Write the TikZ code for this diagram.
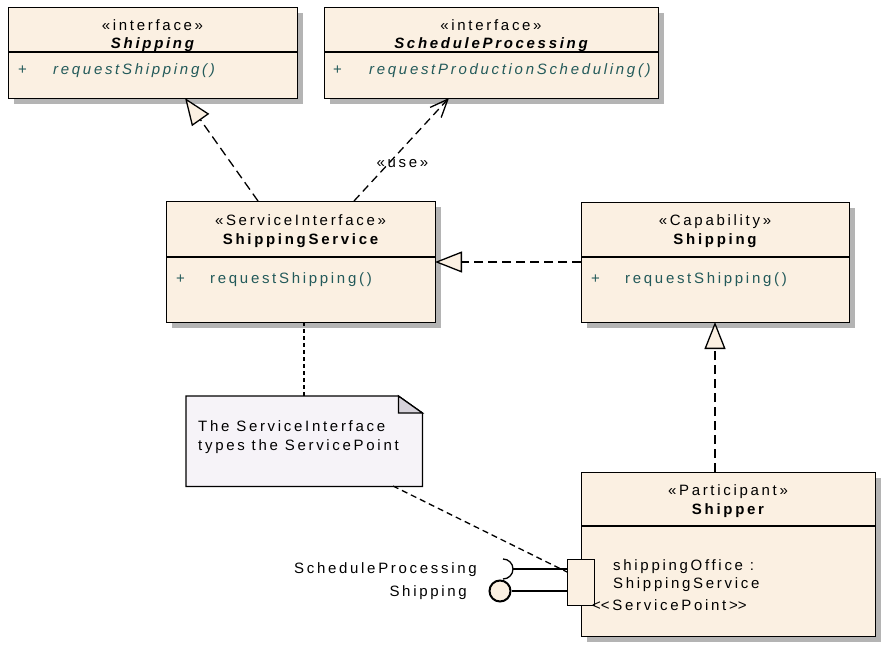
\documentclass[tikz,border=0pt]{standalone}
\usepackage{fontspec}
\setmainfont{Liberation Sans}[LetterSpace=18,Ligatures={NoCommon}]
\usetikzlibrary{arrows.meta,calc,shadows}

\definecolor{classfill}{HTML}{FBF0E2}
\definecolor{shade}{HTML}{B4B4B4}
\definecolor{opcol}{HTML}{235A5A}
\definecolor{notefill}{HTML}{F6F3F8}
\definecolor{earfill}{HTML}{D6D2DA}

\begin{document}
\begin{tikzpicture}[x=1pt,y=-1pt,
  font=\fontsize{15}{17}\selectfont,
  classbox/.style={draw, line width=1.3pt, fill=classfill, inner sep=0pt,
    anchor=north west,
    drop shadow={shadow xshift=5pt, shadow yshift=-5pt, fill=shade, opacity=1}},
  divider/.style={line width=1.3pt},
  txt/.style={inner sep=0pt, anchor=base},
  optxt/.style={inner sep=0pt, anchor=base west, text=opcol},
  realize/.style={line width=1.3pt, dash pattern=on 9pt off 5pt,
    -{Triangle[length=27pt, width=21pt, fill=classfill, line width=1.3pt]}},
  usedep/.style={line width=1.3pt, dash pattern=on 8pt off 5pt,
    -{Straight Barb[length=18pt, width=15pt, line width=1.3pt]}},
  notelink/.style={line width=1.3pt, dash pattern=on 4pt off 3pt},
  portline/.style={line width=1.3pt}
]
\useasboundingbox (0,0) rectangle (881,645);

% ---- interface Shipping
\node[classbox, minimum width=289pt, minimum height=91pt] (ifShip) at (8,7) {};
\draw[divider] ($(ifShip.north west)+(0,45)$) -- ($(ifShip.north east)+(0,45)$);
\node[txt] (ifShipSt) at (152.5,30) {«interface»};
\node[txt] (ifShipNm) at (152.5,48) {\bfseries\itshape Shipping};
\node[optxt] (ifShipPl) at (18,74) {+};
\node[optxt] (ifShipOp) at (53,74) {\itshape requestShipping()};

% ---- interface ScheduleProcessing
\node[classbox, minimum width=334pt, minimum height=91pt] (ifSched) at (324,7) {};
\draw[divider] ($(ifSched.north west)+(0,45)$) -- ($(ifSched.north east)+(0,45)$);
\node[txt] (ifSchedSt) at (491,30) {«interface»};
\node[txt] (ifSchedNm) at (491,48) {\bfseries\itshape ScheduleProcessing};
\node[optxt] (ifSchedPl) at (333,74) {+};
\node[optxt] (ifSchedOp) at (369,74) {\itshape requestProductionScheduling()};

% ---- ServiceInterface ShippingService
\node[classbox, minimum width=269pt, minimum height=121pt] (svc) at (166,201) {};
\draw[divider] ($(svc.north west)+(0,56)$) -- ($(svc.north east)+(0,56)$);
\node[txt] (svcSt) at (300.5,225) {«ServiceInterface»};
\node[txt] (svcNm) at (300.5,244) {\bfseries ShippingService};
\node[optxt] (svcPl) at (176,283) {+};
\node[optxt] (svcOp) at (210,283) {requestShipping()};

% ---- Capability Shipping
\node[classbox, minimum width=268pt, minimum height=120pt] (cap) at (581,202) {};
\draw[divider] ($(cap.north west)+(0,55)$) -- ($(cap.north east)+(0,55)$);
\node[txt] (capSt) at (715,225) {«Capability»};
\node[txt] (capNm) at (715,244) {\bfseries Shipping};
\node[optxt] (capPl) at (591,283) {+};
\node[optxt] (capOp) at (625,283) {requestShipping()};

% ---- Participant Shipper
\node[classbox, minimum width=294pt, minimum height=164pt] (part) at (581,472) {};
\draw[divider] ($(part.north west)+(0,54)$) -- ($(part.north east)+(0,54)$);
\node[txt] (partSt) at (728,495) {«Participant»};
\node[txt] (partNm) at (728,514) {\bfseries Shipper};
\node[txt, anchor=base west] (partA1) at (613,570) {shippingOffice :};
\node[txt, anchor=base west] (partA2) at (613,588) {ShippingService};

% ---- service point port
\node[draw, line width=1.3pt, fill=classfill, inner sep=0pt, anchor=north west,
  minimum width=27pt, minimum height=46pt] (port) at (567,559) {};
\node[txt, anchor=base west] (portLbl) at (592,610) {<\kern0pt<ServicePoint>\kern0pt>};

% ---- required interface (socket) and provided interface (lollipop)
\coordinate (sockTop) at (503,559);
\coordinate (sockR) at (513,569);
\draw[portline] (sockTop) arc[start angle=90, end angle=-90, radius=10pt];
\draw[portline] (sockR) -- (port.west |- sockR);
\node[circle, draw, line width=2pt, fill=classfill, minimum size=21pt, inner sep=0pt]
  (lolli) at (500,591) {};
\draw[portline] (lolli.east) -- (port.west |- lolli.east);
\node[txt, anchor=base east] (sockLbl) at (477,573) {ScheduleProcessing};
\node[txt, anchor=base east] (lolliLbl) at (467,596) {Shipping};

% ---- note
\node[minimum width=236pt, minimum height=90pt, inner sep=0pt, anchor=north west]
  (note) at (186,396) {};
\filldraw[fill=notefill, line width=1.3pt]
  (note.north west) -- ($(note.north east)+(-24,0)$) -- ($(note.north east)+(0,17)$)
  -- (note.south east) -- (note.south west) -- cycle;
\filldraw[fill=earfill, line width=1.3pt]
  ($(note.north east)+(-24,0)$) -- ($(note.north east)+(-24,17)$)
  -- ($(note.north east)+(0,17)$) -- cycle;
\node[txt, anchor=base west] (noteL1) at (198,431) {The ServiceInterface};
\node[txt, anchor=base west] (noteL2) at (198,450) {types the ServicePoint};

% ---- connectors
\coordinate (svcTopA) at (258,201);
\coordinate (ifShipBot) at (185,98);
\draw[realize] (svcTopA) -- (ifShipBot);

\coordinate (svcTopB) at (354,201);
\coordinate (ifSchedBot) at (449,98);
\draw[usedep] (svcTopB) -- (ifSchedBot);
\node[txt] (useLbl) at (402.5,167) {«use»};

\coordinate (capL) at (581,262);
\coordinate (svcR) at (435,262);
\draw[realize] (capL) -- (svcR);
\coordinate (partTop) at (715,472);
\coordinate (capBot) at (715,322);
\draw[realize] (partTop) -- (capBot);

\coordinate (svcBot) at (304,322);
\draw[notelink] (svcBot) -- (svcBot |- note.north);
\coordinate (noteBot) at (393,486);
\coordinate (portIn) at (567,572);
\draw[line width=1.3pt, dash pattern=on 6pt off 4pt] (noteBot) -- (portIn);
\end{tikzpicture}
\end{document}
